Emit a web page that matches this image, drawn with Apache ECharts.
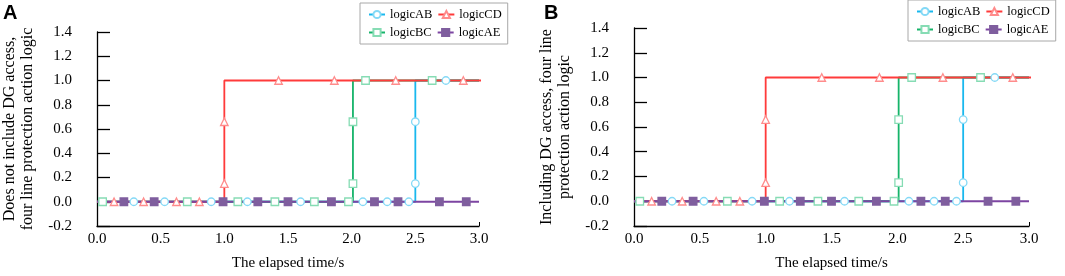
<!DOCTYPE html>
<html>
<head>
<meta charset="utf-8">
<script src="https://cdn.jsdelivr.net/npm/echarts@6/dist/echarts.min.js"></script>
<style>
  html, body { margin: 0; padding: 0; background: #fff; }
  #main { width: 1065px; height: 276px; }
</style>
</head>
<body>
<div id="main"></div>
<script>
// step lines (corner points) for each logic signal, time in s
var names = ['logicAB', 'logicBC', 'logicCD', 'logicAE'];
var abLine = [[0, 0], [2.5, 0], [2.5, 1], [3.0, 1]];
var bcLine = [[0, 0], [2.01, 0], [2.01, 1], [3.0, 1]];
var cdLine = [[0, 0], [1.0, 0], [1.0, 1], [3.08, 1]];
var aeLine = [[0, 0], [3.0, 0]];

// marker positions along the curves
var abMarks = [[0.289, 0], [0.531, 0], [0.897, 0], [1.181, 0], [1.599, 0], [2.088, 0],
  [2.279, 0], [2.449, 0], [2.5, 0.15], [2.5, 0.66], [2.74, 1]];
var bcMarks = [[0.044, 0], [0.709, 0], [1.106, 0], [1.397, 0], [1.707, 0], [1.975, 0],
  [2.01, 0.15], [2.01, 0.66], [2.109, 1], [2.632, 1]];
var cdMarks = [[0.134, 0], [0.366, 0], [0.624, 0], [0.804, 0], [1.0, 0.15], [1.0, 0.66],
  [1.426, 1], [1.864, 1], [2.346, 1], [2.877, 1]];
var aeMarks = [[0.211, 0], [0.449, 0], [0.99, 0], [1.263, 0], [1.5, 0], [1.841, 0],
  [2.179, 0], [2.364, 0], [2.689, 0], [2.9, 0]];

var xTicks = [0, 0.5, 1.0, 1.5, 2.0, 2.5, 3.0];
var yTicks = [-0.2, 0, 0.2, 0.4, 0.6, 0.8, 1.0, 1.2, 1.4];
var yNames = ['Does not include DG access,\nfour line protection action logic',
  'Including DG access, four line\nprotection action logic'];

var FONT = 'Liberation Serif';
var lines = [abLine, bcLine, cdLine, aeLine];
var marks = [abMarks, bcMarks, cdMarks, aeMarks];
var lineColors = ['#19b8ee', '#16b46a', '#ff3b3b', '#7d45a2'];
var markColors = ['#84d9f6', '#86dcb4', '#ff8c8c', '#7f5e9e'];
var markFill = ['#fff', '#fff', '#fff', '#7f5e9e'];
var symbols = ['circle', 'rect', 'triangle', 'rect'];

var chart = echarts.init(document.getElementById('main'));

var grids = [
  { left: 91, top: 32, width: 388, height: 195 },
  { left: 634, top: 28, width: 395, height: 200 }
];

var xAxes = [], yAxes = [], series = [], legends = [];
grids.forEach(function (g, gi) {
  xAxes.push({
    type: 'value', gridIndex: gi, min: xTicks[0], max: xTicks[xTicks.length - 1], interval: 0.5,
    name: 'The elapsed time/s', nameLocation: 'middle', nameGap: 30,
    nameTextStyle: { fontFamily: FONT, fontSize: 15, color: '#000' },
    axisLine: { onZero: false, lineStyle: { color: '#000', width: 1.3 } },
    axisTick: { show: true, inside: true, length: 4, customValues: [3], lineStyle: { color: '#000' } },
    axisLabel: { fontFamily: FONT, fontSize: 15, color: '#000', margin: 6,
      formatter: function (v) { return v.toFixed(1); } },
    splitLine: { show: false }
  });
  yAxes.push({
    type: 'value', gridIndex: gi, min: yTicks[0], max: yTicks[yTicks.length - 1], interval: 0.2,
    name: yNames[gi], nameLocation: 'middle', nameGap: 60,
    nameTextStyle: { fontFamily: FONT, fontSize: 16, color: '#000', lineHeight: 18 },
    axisLine: { show: true, lineStyle: { color: '#000', width: 1.3 } },
    axisTick: { show: true, inside: true, length: 13, lineStyle: { color: '#000', width: 1.3 } },
    axisLabel: { fontFamily: FONT, fontSize: 15, color: '#000', margin: 25,
      formatter: function (v) { return v.toFixed(1); } },
    splitLine: { show: false }
  });
  names.forEach(function (n, i) {
    series.push({
      name: n, type: 'line', xAxisIndex: gi, yAxisIndex: gi, z: 2,
      data: lines[i], symbol: symbols[i], showSymbol: false, symbolSize: 7,
      clip: false, silent: true,
      lineStyle: { color: lineColors[i], width: 1.8 },
      itemStyle: { color: markFill[i], borderColor: markColors[i], borderWidth: 1.2 }
    });
  });
  names.forEach(function (n, i) {
    series.push({
      name: n, type: 'scatter', xAxisIndex: gi, yAxisIndex: gi, z: 3,
      data: marks[i], symbol: symbols[i], symbolSize: 7.5, silent: true,
      itemStyle: { color: markFill[i], borderColor: markColors[i], borderWidth: 1.3, opacity: 1 }
    });
  });
});

var legendPos = [{ left: 360, top: 3 }, { left: 908, top: 0 }];
legendPos.forEach(function (p) {
  legends.push({
    left: p.left, top: p.top, width: 150, orient: 'horizontal',
    data: ['logicAB', 'logicCD', 'logicBC', 'logicAE'],
    itemWidth: 16, itemHeight: 9, itemGap: 5, padding: [5, 6, 5, 8],
    borderColor: '#a8a8a8', borderWidth: 1,
    textStyle: { fontFamily: FONT, fontSize: 12.5, color: '#000', width: 44 },
    selectedMode: false
  });
});

chart.setOption({
  animation: false,
  backgroundColor: '#fff',
  grid: grids,
  xAxis: xAxes,
  yAxis: yAxes,
  legend: legends,
  series: series,
  graphic: [
    { type: 'text', left: 3, top: 3, style: { text: 'A', font: 'bold 20px "Liberation Sans"', fill: '#000' } },
    { type: 'text', left: 544, top: 3, style: { text: 'B', font: 'bold 20px "Liberation Sans"', fill: '#000' } }
  ]
});
</script>
</body>
</html>
